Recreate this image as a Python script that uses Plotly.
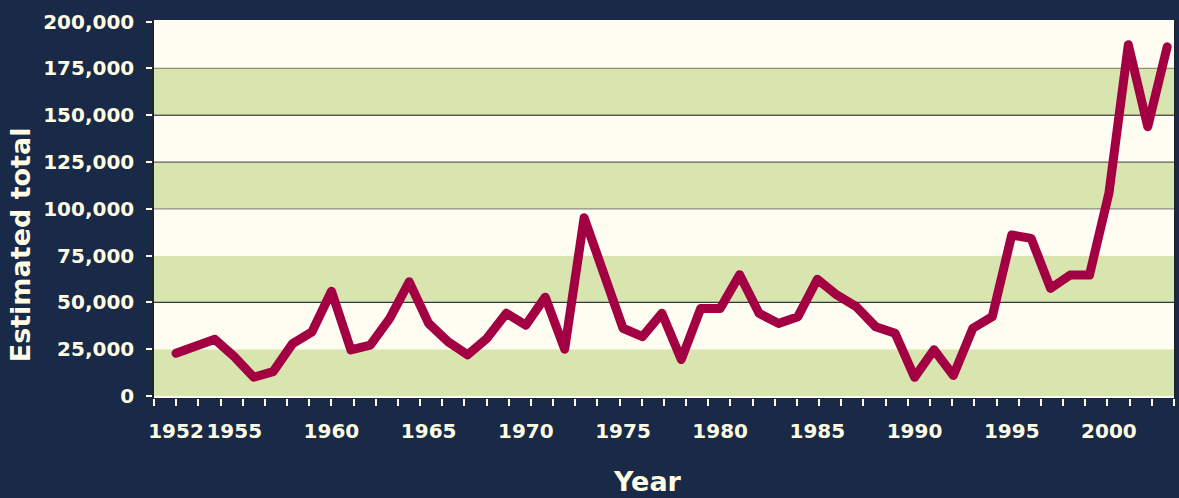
import plotly.graph_objects as go

# ---- data ----
years = list(range(1952, 2004))
totals = [
    22800, 26700, 30300, 21000, 10000, 13000, 28000, 34300, 56000, 24600,
    27200, 41500, 61000, 38800, 29000, 22000, 30800, 44200, 37900, 52800,
    25000, 95300, 65700, 36200, 31700, 44200, 19500, 46800, 46800, 64800,
    44200, 38800, 42400, 62400, 54000, 47700, 37000, 33500, 10000, 24700,
    11000, 36200, 42400, 86000, 84200, 57500, 64600, 64600, 108300, 187700,
    143900, 186600,
]
year_ticks = [1952, 1955, 1960, 1965, 1970, 1975, 1980, 1985, 1990, 1995, 2000]
y_ticks = [0, 25000, 50000, 75000, 100000, 125000, 150000, 175000, 200000]
grid_values = [50000, 100000, 125000, 150000, 175000]
grid_colors = ["#2c3a45", "#8c8c80", "#5c6252", "#585d55", "#8a9370"]

NAVY = "#182A47"
CREAM = "#FFFDF1"
GREEN = "#D8E5AE"
TEXT = "#FFFCE3"
LINE = "#A20042"
FONT = "DejaVu Sans"

fig = go.Figure()
fig.add_trace(go.Scatter(
    x=years, y=totals, mode="lines",
    line=dict(color=LINE, width=9, shape="linear"),
    hoverinfo="x+y", showlegend=False,
))

shapes = []
# alternating background bands: green for the band starting at 0, cream next
for i in range(len(y_ticks) - 1):
    shapes.append(dict(
        type="rect", xref="paper", yref="y", x0=0, x1=1,
        y0=y_ticks[i], y1=y_ticks[i + 1],
        fillcolor=GREEN if i % 2 == 0 else CREAM,
        line=dict(width=0), layer="below",
    ))
for gv, gc in zip(grid_values, grid_colors):
    shapes.append(dict(
        type="line", xref="paper", yref="y", x0=0, x1=1, y0=gv, y1=gv,
        line=dict(color=gc, width=1.3), layer="below",
    ))

fig.update_layout(
    width=1179, height=498,
    paper_bgcolor=NAVY, plot_bgcolor=CREAM,
    margin=dict(l=154, r=3, t=20, b=100, pad=0),
    shapes=shapes,
    font=dict(family=FONT, color=TEXT),
    xaxis=dict(
        range=[1950.87, 2003.35],
        tickmode="array", tickvals=year_ticks,
        ticktext=[str(y) for y in year_ticks],
        ticks="outside", ticklen=7, tickcolor="rgba(0,0,0,0)", tickwidth=2,
        ticklabelstandoff=8,
        tickfont=dict(family=FONT, size=20, color=TEXT, weight="bold"),
        showgrid=False, zeroline=False, showline=False,
        minor=dict(tickmode="linear", tick0=1950.871, dtick=1.1407,
                   ticks="outside", ticklen=7, tickwidth=2, tickcolor=TEXT,
                   showgrid=False),
    ),
    yaxis=dict(
        range=[-1070, 200900],
        tickmode="array", tickvals=y_ticks,
        tickformat=",",
        ticks="outside", ticklen=6, tickwidth=2, tickcolor=TEXT,
        ticklabelstandoff=8,
        tickfont=dict(family=FONT, size=20, color=TEXT, weight="bold"),
        showgrid=False, zeroline=False,
        showline=True, linecolor="#1f2630", linewidth=1.5, mirror=True,
    ),
    annotations=[
        dict(text="Estimated total", xref="paper", yref="paper",
             x=-0.130, y=0.405, xanchor="center", yanchor="middle",
             textangle=-90, showarrow=False,
             font=dict(family=FONT, size=27, color=TEXT, weight="bold")),
        dict(text="Year", xref="paper", yref="paper",
             x=0.4843, y=-0.2196, xanchor="center", yanchor="middle",
             showarrow=False,
             font=dict(family=FONT, size=27, color=TEXT, weight="bold")),
    ],
)

post = (
    "document.documentElement.style.margin='0';"
    "document.body.style.margin='0';"
    "document.body.style.overflow='hidden';"
    "document.querySelectorAll('.scatterlayer path.js-line').forEach("
    "function(p){p.style.strokeLinejoin='round';p.style.strokeLinecap='round';});"
)
fig.write_html("out.html", post_script=post,
               config={"displayModeBar": False, "responsive": False})
